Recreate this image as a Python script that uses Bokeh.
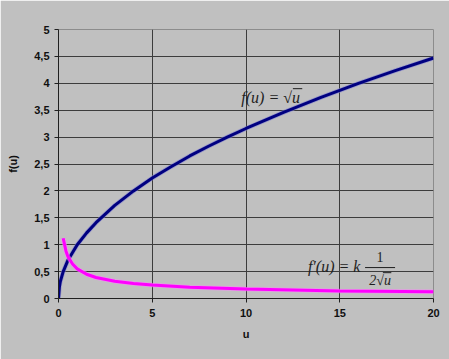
from bokeh.plotting import figure
from bokeh.models import FixedTicker, Label, Range1d, Arrow
from bokeh.embed import file_html
from bokeh.resources import INLINE

# f(u) = sqrt(u)
u_f = [0, 0.05, 0.1, 0.25, 0.5, 1, 1.5, 2, 3, 4, 5, 6, 7, 8, 9, 10, 12, 14, 16, 18, 20]
f_vals = [0, 0.22, 0.32, 0.5, 0.71, 1.0, 1.22, 1.41, 1.73, 2.0, 2.24, 2.45, 2.65, 2.83,
          3.0, 3.16, 3.46, 3.74, 4.0, 4.24, 4.47]
# f'(u) = k / (2 sqrt(u))
u_d = [0.25, 0.4, 0.5, 0.75, 1, 1.5, 2, 3, 4, 5, 7, 10, 15, 20]
d_vals = [1.12, 0.88, 0.78, 0.64, 0.55, 0.45, 0.39, 0.32, 0.28, 0.25, 0.21, 0.175, 0.14, 0.125]

x_ticks = [0, 5, 10, 15, 20]
y_ticks = [0, 0.5, 1, 1.5, 2, 2.5, 3, 3.5, 4, 4.5, 5]
y_tick_labels = {t: (str(t).replace(".", ",") if t != int(t) else str(int(t))) for t in y_ticks}

BG = "#c0c0c0"
FONT = "Liberation Sans"
SERIF = "Liberation Serif"
TXT = "#1e1e1e"

p = figure(width=449, height=359, output_backend="svg", toolbar_location=None,
           x_range=Range1d(0, 20), y_range=Range1d(0, 5),
           min_border_left=58, min_border_right=16, min_border_top=29, min_border_bottom=61)
p.background_fill_color = BG
p.border_fill_color = BG
p.outline_line_color = "#8c8c8c"
p.outline_line_width = 1

p.xaxis.ticker = FixedTicker(ticks=x_ticks)
p.yaxis.ticker = FixedTicker(ticks=y_ticks)
p.yaxis.major_label_overrides = y_tick_labels
for ax in (p.xaxis[0], p.yaxis[0]):
    ax.minor_tick_line_color = None
    ax.major_tick_in = 0
    ax.major_tick_out = 4
    ax.major_tick_line_color = "#202020"
    ax.axis_line_color = "#202020"
    ax.major_label_text_font = FONT
    ax.major_label_text_font_size = "11px"
    ax.major_label_text_font_style = "bold"
    ax.major_label_text_color = "#101010"
    ax.axis_label_text_font = FONT
    ax.axis_label_text_font_size = "11px"
    ax.axis_label_text_font_style = "bold"
    ax.axis_label_text_color = "#101010"
p.xaxis.axis_label = "u"
p.yaxis.axis_label = "f(u)"
p.xaxis.major_label_standoff = 6
p.xaxis.axis_label_standoff = 8
p.yaxis.major_label_standoff = 5
p.yaxis.axis_label_standoff = 12

p.xgrid.ticker = FixedTicker(ticks=[5, 10, 15])
p.ygrid.ticker = FixedTicker(ticks=[0.5, 1, 1.5, 2, 2.5, 3, 3.5, 4, 4.5])
p.xgrid.grid_line_color = "#3c3c3c"
p.ygrid.grid_line_color = "#3c3c3c"
p.grid.grid_line_width = 1

p.line(u_f, f_vals, line_color="#7f7fd0", line_width=4.5, line_alpha=0.6)
p.line(u_f, f_vals, line_color="#000080", line_width=3)
p.line(u_d, d_vals, line_color="#ff80ff", line_width=4.5, line_alpha=0.6)
p.line(u_d, d_vals, line_color="#ff00ff", line_width=3)

# formula annotations (positions in data units)
p.add_layout(Label(x=9.75, y=3.74, text="f(u) = √u", text_font=SERIF,
                   text_font_style="italic", text_font_size="16px", text_color=TXT,
                   text_baseline="middle"))
p.add_layout(Arrow(end=None, start=None, x_start=12.5, y_start=3.9, x_end=13.0, y_end=3.9,
                   line_color=TXT, line_width=1))
p.add_layout(Label(x=13.3, y=0.6, text="f′(u) = k", text_font=SERIF,
                   text_font_style="italic", text_font_size="16px", text_color=TXT,
                   text_baseline="middle"))
p.add_layout(Label(x=17.15, y=0.77, text="1", text_font=SERIF,
                   text_font_size="14px", text_color=TXT,
                   text_align="center", text_baseline="middle"))
p.add_layout(Arrow(end=None, start=None, x_start=16.35, y_start=0.575, x_end=17.95, y_end=0.575,
                   line_color=TXT, line_width=1))
p.add_layout(Label(x=17.15, y=0.34, text="2√u", text_font=SERIF,
                   text_font_style="italic", text_font_size="14px", text_color=TXT,
                   text_align="center", text_baseline="middle"))
p.add_layout(Arrow(end=None, start=None, x_start=17.3, y_start=0.48, x_end=17.75, y_end=0.48,
                   line_color=TXT, line_width=1))

open("out.html", "w").write(file_html(p, INLINE))
